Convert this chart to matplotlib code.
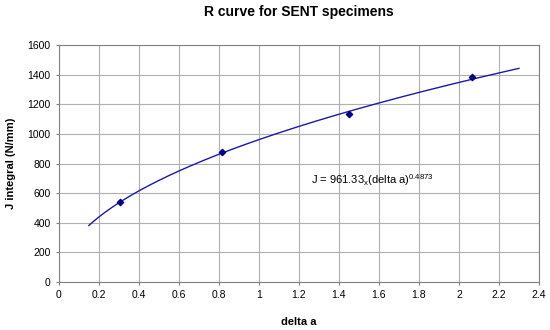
import numpy as np
import matplotlib
matplotlib.use("Agg")
import matplotlib.pyplot as plt

plt.rcParams['font.family'] = ['Liberation Sans', 'DejaVu Sans']
plt.rcParams['mathtext.fontset'] = 'custom'
plt.rcParams['mathtext.rm'] = 'Liberation Sans'

delta_a = [0.305, 0.813, 1.452, 2.063]
j_integral = [542, 875, 1132, 1387]
fit_coef = 961.33
fit_exp = 0.4873
fit_range = [0.15, 2.3]
x_ticks = [0, 0.2, 0.4, 0.6, 0.8, 1, 1.2, 1.4, 1.6, 1.8, 2, 2.2, 2.4]
x_tick_labels = ['0', '0.2', '0.4', '0.6', '0.8', '1', '1.2', '1.4', '1.6', '1.8', '2', '2.2', '2.4']
y_ticks = [0, 200, 400, 600, 800, 1000, 1200, 1400, 1600]

fig = plt.figure(figsize=(5.5, 3.3), dpi=100)
ax = fig.add_axes([0.107, 0.1455, 0.873, 0.718])

xf = np.linspace(fit_range[0], fit_range[1], 200)
ax.plot(xf, fit_coef * xf ** fit_exp, color='#1a1aa6', lw=1.0, zorder=3)
ax.scatter(delta_a, j_integral, marker='D', s=10, color='#000080', zorder=4)

ax.set_xlim(0, 2.4)
ax.set_ylim(0, 1600)
ax.set_xticks(x_ticks)
ax.set_xticklabels(x_tick_labels)
ax.set_yticks(y_ticks)
ax.grid(True, color='#b0b0b0', lw=0.8)
ax.set_axisbelow(True)
for s in ax.spines.values():
    s.set_color('#808080')
ax.tick_params(axis='both', labelsize=7.5, length=2.5, color='#808080')

ax.set_title('R curve for SENT specimens', fontsize=10, fontweight='bold', pad=21)
ax.set_xlabel('delta a', fontsize=8, fontweight='bold', labelpad=12)
ax.set_ylabel('J integral (N/mm)', fontsize=8, fontweight='bold', labelpad=8)

ax.text(1.26, 690, r'J = 961.33$_\mathregular{x}$(delta a)$^\mathregular{0.4873}$',
        fontsize=8, va='center', ha='left')

fig.savefig('out.png', dpi=100)
